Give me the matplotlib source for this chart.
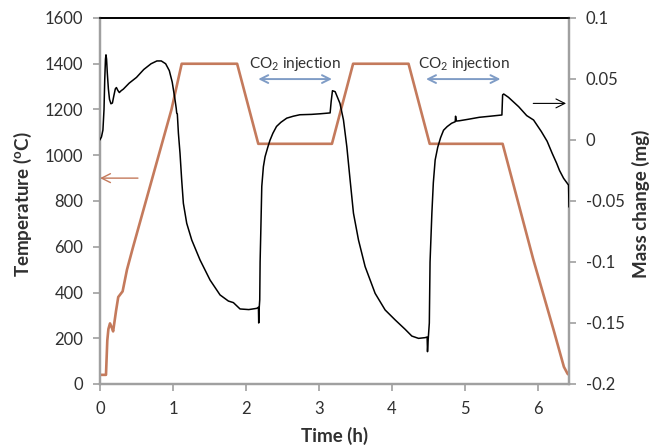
import matplotlib
matplotlib.use("Agg")
import matplotlib.pyplot as plt

plt.rcParams['font.family'] = ['Lato', 'DejaVu Sans']
plt.rcParams['mathtext.fontset'] = 'custom'
plt.rcParams['mathtext.rm'] = 'Lato'
plt.rcParams['mathtext.bf'] = 'Lato:bold'

# Temperature programme (left axis)
temp_time = [0.0, 0.082, 0.10, 0.115, 0.137, 0.16, 0.18, 0.22, 0.25, 0.31, 0.37, 0.45,
             0.52, 0.98, 1.12, 1.88, 2.17, 3.18, 3.47, 4.23, 4.52, 5.52, 5.94, 6.22,
             6.36, 6.41, 6.43]
temp_values = [40, 40, 190, 240, 265, 248, 230, 320, 380, 405, 500, 595,
               675, 1200, 1400, 1400, 1050, 1050, 1400, 1400, 1050, 1050, 545, 235,
               75, 45, 40]

# Mass change (right axis)
mass_time = [0.0, 0.02, 0.04, 0.055, 0.065, 0.075, 0.082, 0.09, 0.10, 0.115, 0.13,
             0.15, 0.17, 0.19, 0.21, 0.225, 0.245, 0.265, 0.29, 0.32, 0.40, 0.50,
             0.60, 0.70, 0.78, 0.84, 0.90, 0.95, 0.99, 1.029, 1.045, 1.052, 1.06,
             1.075, 1.097, 1.12, 1.143, 1.189, 1.258, 1.372, 1.509, 1.646, 1.76,
             1.829, 1.92, 2.04, 2.149, 2.172, 2.176, 2.18, 2.19, 2.195, 2.204,
             2.218, 2.24, 2.263, 2.30, 2.33, 2.37, 2.42, 2.48, 2.56, 2.65, 2.74,
             2.90, 3.02, 3.155, 3.169, 3.187, 3.224, 3.29, 3.338, 3.384, 3.429,
             3.475, 3.544, 3.635, 3.772, 3.909, 4.047, 4.184, 4.275, 4.367, 4.458,
             4.485, 4.49, 4.50, 4.515, 4.525, 4.55, 4.57, 4.595, 4.63, 4.67, 4.71,
             4.76, 4.82, 4.87, 4.875, 4.885, 4.93, 5.05, 5.20, 5.35, 5.51, 5.52,
             5.535, 5.60, 5.74, 5.85, 5.944, 6.05, 6.13, 6.20, 6.26, 6.30, 6.356,
             6.40, 6.424, 6.43]
mass_values = [0.0003, 0.0025, 0.0081, 0.025, 0.0494, 0.0663, 0.0698, 0.0663, 0.055,
               0.0419, 0.0334, 0.0297, 0.0303, 0.0363, 0.0419, 0.043, 0.0406, 0.0389,
               0.0404, 0.0417, 0.0466, 0.0513, 0.0578, 0.0625, 0.0648, 0.0648,
               0.0625, 0.0569, 0.0475, 0.0328, 0.026, 0.0219, 0.0215, 0.0055,
               -0.0109, -0.0328, -0.0519, -0.0683, -0.082, -0.0984, -0.1148, -0.127,
               -0.132, -0.1333, -0.1385, -0.139, -0.138, -0.1371, -0.150, -0.140,
               -0.131, -0.10, -0.0765, -0.038, -0.0219, -0.0137, -0.006, -0.0003,
               0.0055, 0.0111, 0.0145, 0.0179, 0.0195, 0.0207, 0.021, 0.0215,
               0.0222, 0.0314, 0.0404, 0.0396, 0.030, 0.0164, -0.0055, -0.0328,
               -0.060, -0.082, -0.1038, -0.1257, -0.1393, -0.1475, -0.1552, -0.1607,
               -0.1626, -0.162, -0.1615, -0.1735, -0.163, -0.150, -0.10, -0.060,
               -0.035, -0.0164, -0.006, 0.002, 0.008, 0.011, 0.0137, 0.0150, 0.0195,
               0.0155, 0.0158, 0.017, 0.0186, 0.0195, 0.0205, 0.037, 0.0377, 0.0350,
               0.0273, 0.020, 0.0164, 0.007, -0.001, -0.011, -0.019, -0.025,
               -0.0314, -0.035, -0.037, -0.0547]

x_ticks = [0, 1, 2, 3, 4, 5, 6]
temp_ticks = [0, 200, 400, 600, 800, 1000, 1200, 1400, 1600]
mass_ticks = [-0.2, -0.15, -0.1, -0.05, 0, 0.05, 0.1]
mass_tick_labels = ['-0.2', '-0.15', '-0.1', '-0.05', '0', '0.05', '0.1']

orange = '#C47A5C'
blue = '#7F9CC6'
gray = '#A0A0A0'
txt = '#303030'

fig = plt.figure(figsize=(6.54, 4.46), dpi=100)
ax = fig.add_axes([100/654, (446-384)/446, (569-100)/654, (384-18)/446])
ax2 = ax.twinx()

ax.plot(temp_time, temp_values, color=orange, lw=1.9, zorder=3)
ax2.plot(mass_time, mass_values, color='black', lw=1.1, zorder=3)

ax.set_xlim(0, 6.43)
ax.set_ylim(0, 1600)
ax2.set_ylim(-0.2, 0.1)
ax.set_xticks(x_ticks)
ax.set_yticks(temp_ticks)
ax2.set_yticks(mass_ticks)
ax2.set_yticklabels(mass_tick_labels)

for a in (ax, ax2):
    for s in ('left', 'right', 'bottom'):
        a.spines[s].set_color(gray)
        a.spines[s].set_linewidth(1.6)
    a.spines['top'].set_color('black')
    a.spines['top'].set_linewidth(1.2)
    a.tick_params(colors=gray, labelcolor=txt, labelsize=12, width=1.2, length=5,
                  direction='out')
ax.tick_params(axis='y', pad=7)
ax.tick_params(axis='x', pad=7)
ax2.tick_params(axis='y', pad=7)

fig.text(23/654, 1 - 204/446, 'Temperature ($\\mathbf{^o}$C)', rotation=90,
         ha='center', va='center', fontsize=13.5, fontweight='bold', color=txt)
fig.text(335/654, 1 - 436/446, 'Time (h)', ha='center', va='center',
         fontsize=13.5, fontweight='bold', color=txt)
fig.text(641/654, 1 - 204/446, 'Mass change (mg)', rotation=90,
         ha='center', va='center', fontsize=13.5, fontweight='bold', color=txt)

# annotations
for (t0, t1, tc) in [(2.17, 3.18, 2.67), (4.47, 5.49, 4.99)]:
    ax.annotate('', xy=(t0, 1333), xytext=(t1, 1333),
                arrowprops=dict(arrowstyle='<->', color=blue, lw=1.4,
                                mutation_scale=14, shrinkA=0, shrinkB=0))
    ax.text(tc, 1400, 'CO$_2$ injection', ha='center', va='center',
            fontsize=11, color=txt)

ax.annotate('', xy=(0.0, 900), xytext=(0.52, 900),
            arrowprops=dict(arrowstyle='->', color=orange, lw=1.0,
                            mutation_scale=16, shrinkA=0, shrinkB=0))
ax2.annotate('', xy=(6.39, 0.030), xytext=(5.94, 0.030),
             arrowprops=dict(arrowstyle='->', color='black', lw=0.8,
                             mutation_scale=16, shrinkA=0, shrinkB=0))

fig.savefig('out.png', dpi=100)
